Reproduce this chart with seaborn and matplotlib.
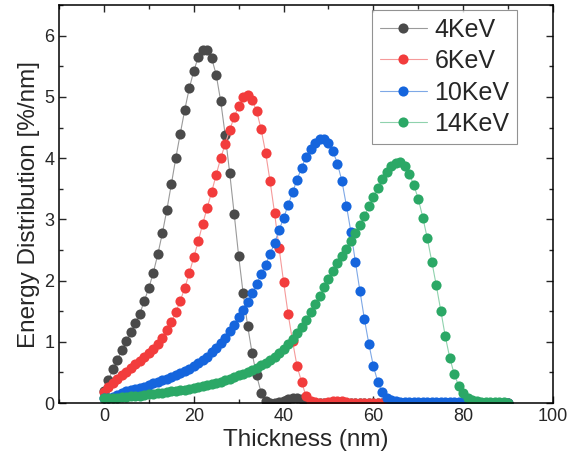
import numpy as np
import pandas as pd
import seaborn as sns
import matplotlib.pyplot as plt
from matplotlib.ticker import MultipleLocator

thickness = list(range(0, 91))

kev4 = [0.20, 0.37, 0.55, 0.71, 0.86, 1.01, 1.16, 1.31, 1.46, 1.67,
        1.88, 2.13, 2.43, 2.77, 3.15, 3.57, 4.00, 4.40, 4.79, 5.14,
        5.42, 5.65, 5.76, 5.76, 5.63, 5.36, 4.93, 4.38, 3.76, 3.09,
        2.40, 1.79, 1.26, 0.81, 0.45, 0.17, 0.03, 0.00, 0.00, 0.01,
        0.03, 0.06, 0.08, 0.09, 0.06, 0.03, 0.01] + [0.0] * 44

kev6 = [0.18, 0.26, 0.33, 0.39, 0.45, 0.51, 0.57, 0.63, 0.69, 0.75,
        0.82, 0.89, 0.97, 1.07, 1.19, 1.32, 1.48, 1.67, 1.88, 2.12,
        2.38, 2.64, 2.93, 3.19, 3.45, 3.73, 4.00, 4.23, 4.46, 4.67,
        4.85, 4.99, 5.03, 4.95, 4.77, 4.47, 4.09, 3.62, 3.10, 2.53,
        1.98, 1.46, 1.01, 0.60, 0.35, 0.11, 0.03, 0.01, 0.00, 0.00,
        0.01, 0.03, 0.04, 0.03, 0.01] + [0.0] * 36

kev10 = [0.09, 0.08, 0.10, 0.13, 0.16, 0.19, 0.21, 0.23, 0.25, 0.27,
         0.29, 0.32, 0.34, 0.37, 0.40, 0.43, 0.46, 0.49, 0.52, 0.56,
         0.60, 0.65, 0.70, 0.76, 0.83, 0.90, 0.98, 1.07, 1.17, 1.28,
         1.40, 1.52, 1.65, 1.79, 1.94, 2.10, 2.26, 2.43, 2.62, 2.82,
         3.02, 3.23, 3.44, 3.65, 3.84, 4.02, 4.15, 4.25, 4.31, 4.31,
         4.24, 4.11, 3.91, 3.62, 3.22, 2.79, 2.30, 1.83, 1.37, 0.96,
         0.60, 0.34, 0.18, 0.09, 0.05, 0.03, 0.02] + [0.01] * 14 + [0.0] * 10

kev14 = [0.08, 0.08, 0.09, 0.09, 0.10, 0.10, 0.11, 0.12, 0.12, 0.13,
         0.14, 0.15, 0.16, 0.17, 0.18, 0.19, 0.20, 0.21, 0.22, 0.23,
         0.25, 0.26, 0.28, 0.29, 0.31, 0.33, 0.35, 0.37, 0.39, 0.42,
         0.45, 0.48, 0.51, 0.54, 0.58, 0.62, 0.66, 0.71, 0.76, 0.82,
         0.88, 0.96, 1.05, 1.15, 1.25, 1.36, 1.48, 1.61, 1.75, 1.89,
         2.03, 2.16, 2.28, 2.40, 2.52, 2.64, 2.77, 2.91, 3.06, 3.21,
         3.37, 3.52, 3.66, 3.78, 3.87, 3.92, 3.93, 3.87, 3.74, 3.56,
         3.33, 3.03, 2.69, 2.31, 1.92, 1.51, 1.09, 0.74, 0.47, 0.28,
         0.16, 0.09, 0.05, 0.03, 0.02, 0.02, 0.02, 0.02, 0.02, 0.01,
         0.00]

labels = ["4KeV", "6KeV", "10KeV", "14KeV"]
dot_colors = ["#4a4a4a", "#f23c3c", "#1565dd", "#2ba866"]
line_colors = ["#9a9a9a", "#f59a9a", "#7ea8e6", "#8fd2ad"]

sns.set_style("ticks")
plt.rcParams['font.family'] = ['Liberation Sans', 'DejaVu Sans']

fig = plt.figure(figsize=(5.69, 4.58), dpi=100)
ax = fig.add_axes([0.1037, 0.120, 0.8683, 0.869])

for vals, lab, dc, lc in zip([kev4, kev6, kev10, kev14], labels, dot_colors, line_colors):
    sns.lineplot(x=thickness, y=vals, ax=ax, color=lc, linewidth=0.8,
                 marker="o", markersize=7.3, markerfacecolor=dc,
                 markeredgewidth=0, label=lab)

ax.set_xlim(-10, 100)
ax.set_ylim(0, 6.5)
ax.xaxis.set_major_locator(MultipleLocator(20))
ax.xaxis.set_minor_locator(MultipleLocator(10))
ax.yaxis.set_major_locator(MultipleLocator(1))
ax.yaxis.set_minor_locator(MultipleLocator(0.5))
ax.tick_params(which="both", direction="in", top=True, right=True, width=1, labelsize=13)
ax.tick_params(which="major", length=5)
ax.tick_params(which="minor", length=3)
for s in ax.spines.values():
    s.set_linewidth(1.1)
    s.set_color("black")

ax.set_xlabel("Thickness (nm)", fontsize=17.5, labelpad=3)
ax.set_ylabel("Energy Distribution [%/nm]", fontsize=17.5, labelpad=3)

leg = ax.legend(loc="upper right", bbox_to_anchor=(0.927, 0.987), fontsize=18,
                frameon=True, fancybox=False, edgecolor="#777777",
                handlelength=1.9, handletextpad=0.3, borderpad=0.3,
                labelspacing=0.3, borderaxespad=0)
leg.get_frame().set_linewidth(0.8)

fig.savefig("out.png", dpi=100)
